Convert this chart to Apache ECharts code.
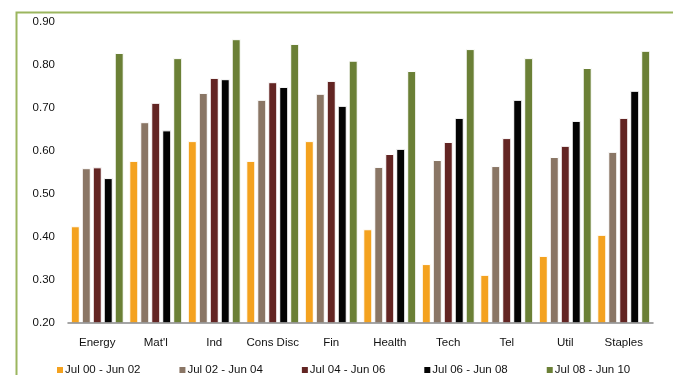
<!DOCTYPE html>
<html>
<head>
<meta charset="utf-8">
<script src="https://cdn.jsdelivr.net/npm/echarts@6/dist/echarts.min.js"></script>
<style>
  html, body { margin: 0; padding: 0; background: #fff; }
  #chart { width: 673px; height: 375px; }
</style>
</head>
<body>
<div id="chart"></div>
<script>
// sectors
var categories = ['Energy', "Mat'l", 'Ind', 'Cons Disc', 'Fin', 'Health', 'Tech', 'Tel', 'Util', 'Staples']
var periods = ['Jul 00 - Jun 02', 'Jul 02 - Jun 04', 'Jul 04 - Jun 06', 'Jul 06 - Jun 08', 'Jul 08 - Jun 10']
var p0002 = [0.425, 0.577, 0.623, 0.577, 0.623, 0.418, 0.337, 0.312, 0.356, 0.405]
var p0204 = [0.560, 0.667, 0.735, 0.719, 0.733, 0.563, 0.579, 0.565, 0.586, 0.598]
var p0406 = [0.562, 0.712, 0.770, 0.760, 0.763, 0.593, 0.621, 0.630, 0.612, 0.677]
var p0608 = [0.537, 0.648, 0.767, 0.749, 0.705, 0.605, 0.677, 0.719, 0.670, 0.740]
var p0810 = [0.828, 0.816, 0.860, 0.849, 0.810, 0.786, 0.837, 0.816, 0.793, 0.833]
var colors = ['#F4A21F', '#8A7665', '#632523', '#040404', '#6B8036']

var chart = echarts.init(document.getElementById('chart'))
var seriesData = [p0002, p0204, p0406, p0608, p0810]
var series = seriesData.map(function (d, i) {
  return {
    name: periods[i],
    type: 'bar',
    data: d,
    barWidth: 9,
    barGap: '22%',
    itemStyle: { color: colors[i], borderColor: '#fff', borderWidth: 1 }
  }
})

chart.setOption({
  animation: false,
  textStyle: { fontFamily: 'Liberation Sans, Arial, sans-serif' },
  color: colors,
  graphic: [{
    type: 'rect',
    left: 14,
    top: 10,
    shape: { width: 658, height: 380 },
    style: { fill: 'none', stroke: '#9BB65F', lineWidth: 2 },
    silent: true
  }],
  grid: { left: 68, right: 20, top: 22, bottom: 52 },
  legend: {
    top: 359,
    left: 50,
    itemWidth: 8,
    itemHeight: 8,
    itemGap: 37,
    icon: 'rect',
    textStyle: { color: '#111', fontSize: 11.5, padding: [0, 0, 0, -4] },
    data: periods
  },
  xAxis: {
    type: 'category',
    data: categories,
    z: 5,
    axisLine: { lineStyle: { color: '#888', width: 1.5 } },
    axisTick: { show: false },
    axisLabel: { color: '#111', fontSize: 11.5, margin: 14, interval: 0 }
  },
  yAxis: {
    type: 'value',
    min: 0.2,
    max: 0.9,
    interval: 0.1,
    splitLine: { show: false },
    axisLine: { show: false },
    axisTick: { show: false },
    axisLabel: {
      color: '#111',
      fontSize: 11.5,
      margin: 13,
      formatter: function (v) { return v.toFixed(2) }
    }
  },
  series: series
})
</script>
</body>
</html>
